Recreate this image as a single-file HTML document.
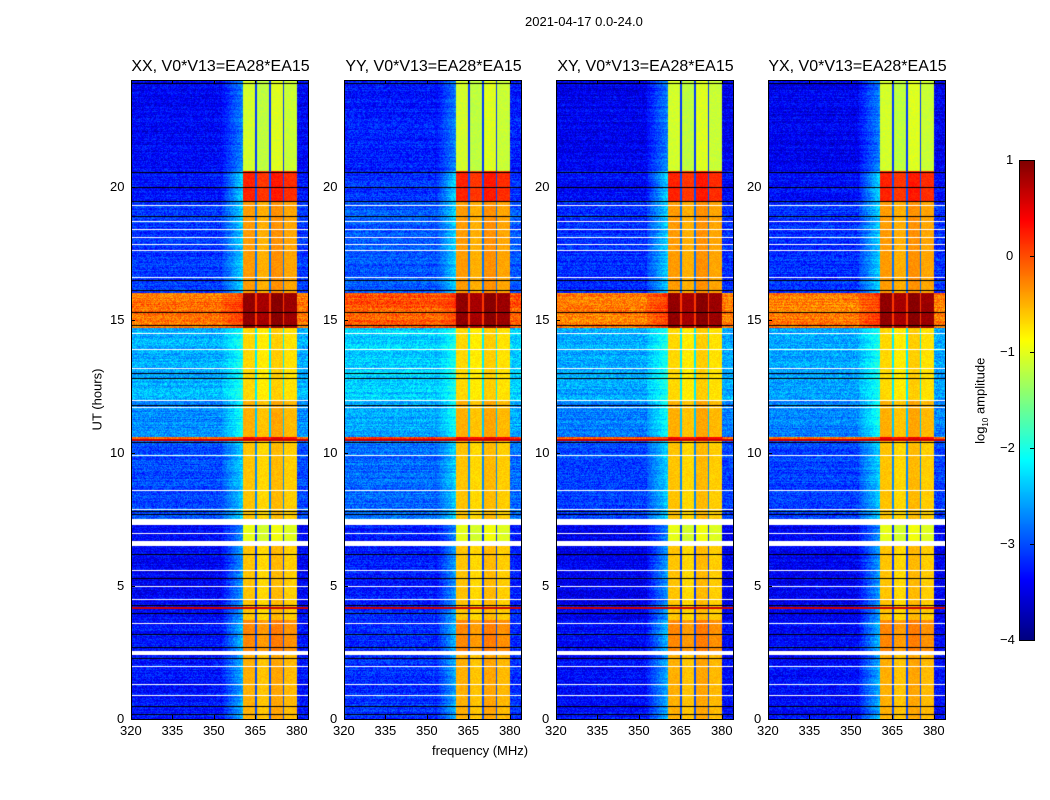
<!DOCTYPE html>
<html><head><meta charset="utf-8">
<style>
body{margin:0;background:#fff;width:1050px;height:800px;overflow:hidden;position:relative;font-family:"Liberation Sans",sans-serif;}
.abs{position:absolute;}
.t{position:absolute;font-size:13px;color:#000;white-space:nowrap;}
.title{position:absolute;font-size:16px;white-space:nowrap;transform:translateX(-50%);}
canvas{position:absolute;}
.frame{position:absolute;border:1px solid #000;box-sizing:border-box;}
</style></head>
<body>
<div class="t" style="left:525px;top:14px;">2021-04-17 0.0-24.0</div>
<div class="t" style="left:66px;top:392px;transform:rotate(-90deg);">UT (hours)</div>
<div class="t" style="left:432px;top:743px;">frequency (MHz)</div>
<div class="t" style="left:938px;top:392px;transform:rotate(-90deg);">log<sub style="font-size:8px">10</sub> amplitude</div>
<div id="root"></div>
<script>
// ---- data ----
const panelTitles=["XX, V0*V13=EA28*EA15","YY, V0*V13=EA28*EA15","XY, V0*V13=EA28*EA15","YX, V0*V13=EA28*EA15"];
const panelOffset=[0,0.15,-0.05,-0.05];
const bandStart=[0,2.4,2.55,3.7,6.5,6.7,7.3,7.5,10.45,10.6,12.0,14.7,16.0,19.4,20.6];
const bandEnd=[2.4,2.55,3.7,6.5,6.7,7.3,7.5,10.45,10.6,12.0,14.7,16.0,19.4,20.6,24];
const bandBg=[-2.9,null,-2.9,-3.0,null,-3.0,null,-2.6,0.3,-2.3,-2.1,0.2,-2.7,-2.9,-3.0];
const bandCh=[-0.5,null,-0.3,-0.6,null,-1.0,null,-0.6,0.4,-0.5,-0.7,0.9,-0.4,0.2,-1.1];
const chanStart=[360.4,365.4,370.5,375.5];
const chanEnd=[364.9,370.0,375.0,380.0];
const chanBoost=[0.1,0,0.15,0.05];
const whiteLines=[0.9,1.3,2.0,3.6,4.5,5.0,5.6,7.0,7.9,8.6,9.9,11.7,12.0,13.2,13.9,14.5,16.6,17.6,17.85,18.1,18.4,18.7,19.3];
const blackLines=[0.2,0.5,2.3,2.7,3.2,4.0,4.3,5.3,6.2,7.7,7.8,10.4,11.8,12.8,13.0,14.8,15.3,16.1,16.5,18.9,19.45,20.0,20.55,23.9];
const redLines=[4.22,10.5];
const xTicks=[320,335,350,365,380];
const yTicks=[0,5,10,15,20];
const cbTicks=[1,0,-1,-2,-3,-4];
// ---- layout ----
const lefts=[131,344,556,768], W=177, TOP=80, H=639;
const fx=f=>(f-320)/64*W, hy=h=>H-h/24*H;
function jet(v){let t=(v+4)/5;t=Math.max(0,Math.min(1,t));
 const r=Math.min(1,Math.max(0,1.5-Math.abs(4*t-3))),g=Math.min(1,Math.max(0,1.5-Math.abs(4*t-2))),b=Math.min(1,Math.max(0,1.5-Math.abs(4*t-1)));return [r*255|0,g*255|0,b*255|0];}
function hash(x,y){let n=x*374761393+y*668265263;n=(n^(n>>13))*1274126177;return ((n^(n>>16))>>>0)/4294967295;}
const root=document.getElementById('root');
lefts.forEach((L,p)=>{
 const c=document.createElement('canvas');c.width=W;c.height=H;c.style.left=L+'px';c.style.top=TOP+'px';
 
 
 root.appendChild(c);
 const ctx=c.getContext('2d'),img=ctx.createImageData(W,H),d=img.data;
 for(let y=0;y<H;y++){
  const h=(H-y-0.5)/H*24;let bi=0;for(let i=0;i<bandStart.length;i++)if(h>=bandStart[i]&&h<bandEnd[i])bi=i;
  const bg=bandBg[bi],ch=bandCh[bi];
  const rowJit=(hash(y*7,p+3)-0.5)*0.5;
  for(let x=0;x<W;x++){
   const k=(y*W+x)*4;
   if(bg===null){d[k]=d[k+1]=d[k+2]=255;d[k+3]=255;continue;}
   const f=320+(x+0.5)/W*64;let v=bg+panelOffset[p]+rowJit+(hash(x+p*999,y)-0.5)*1.1;
   let inCh=-1;for(let j=0;j<chanStart.length;j++)if(f>=chanStart[j]&&f<chanEnd[j])inCh=j;
   if(inCh>=0)v=ch+chanBoost[inCh]+(hash(x,y+p*77)-0.5)*0.35;
   else if(f>353&&f<360.4)v=bg+rowJit+(ch-bg)*0.3*((f-353)/7.4)+(hash(x,y)-0.5)*0.8;
   else if(f>=360.4&&f<380)v=bg-0.1;
   const c2=jet(v);d[k]=c2[0];d[k+1]=c2[1];d[k+2]=c2[2];d[k+3]=255;
  }
 }
 ctx.putImageData(img,0,0);
 ctx.fillStyle='#fff';whiteLines.forEach(h=>ctx.fillRect(0,Math.round(hy(h)),W,1));
 ctx.fillStyle='#000';blackLines.forEach(h=>ctx.fillRect(0,Math.round(hy(h)),W,1));
 ctx.fillStyle='#c00';redLines.forEach(h=>ctx.fillRect(0,Math.round(hy(h)),W,2));
 const fr=document.createElement('div');fr.className='frame';
 
 
 fr.style.cssText=`left:${L}px;top:${TOP}px;width:${W+1}px;height:${H+1}px`;root.appendChild(fr);
 const tt=document.createElement('div');tt.className='title';tt.textContent=panelTitles[p];
 
 
 tt.style.left=(L+W/2+1)+'px';tt.style.top='58px';root.appendChild(tt);
 xTicks.forEach(v=>{const x=L+fx(v);
  const tk=document.createElement('div');tk.className='abs';tk.style.cssText=`left:${x}px;top:${TOP+H-4}px;width:1px;height:4px;background:#000`;
  
  root.appendChild(tk);
  const tk2=tk.cloneNode();tk2.style.top=TOP+'px';root.appendChild(tk2);
  const lb=document.createElement('div');lb.className='t';lb.textContent=v;lb.style.left=(x-11)+'px';lb.style.top=(TOP+H+4)+'px';
  
  root.appendChild(lb);});
 yTicks.forEach(v=>{const y=TOP+hy(v);
  const tk=document.createElement('div');tk.className='abs';tk.style.cssText=`left:${L}px;top:${y}px;width:4px;height:1px;background:#000`;
  
  root.appendChild(tk);
  const lb=document.createElement('div');lb.className='t';lb.textContent=v;lb.style.left=(L-6-(v>=10?15:8))+'px';lb.style.top=(y-8)+'px';
  
  root.appendChild(lb);});
});
// colorbar
const cb=document.createElement('canvas');cb.width=15;cb.height=480;cb.style.left='1019px';cb.style.top='160px';


root.appendChild(cb);
const cx=cb.getContext('2d');for(let y=0;y<480;y++){const c2=jet(1-(y+0.5)/480*5);cx.fillStyle=`rgb(${c2})`;cx.fillRect(0,y,15,1);}
const cf=document.createElement('div');cf.className='frame';cf.style.cssText='left:1019px;top:160px;width:16px;height:481px';

root.appendChild(cf);
cbTicks.forEach(v=>{const y=160+(1-v)/5*480;
 const lb=document.createElement('div');lb.className='t';lb.textContent=(v<0?'\u2212':'')+Math.abs(v);lb.style.left=(v<0?1000:1006)+'px';lb.style.top=(y-8)+'px';
 
 root.appendChild(lb);
 const tk=document.createElement('div');tk.className='abs';tk.style.cssText=`left:1030px;top:${y}px;width:4px;height:1px;background:#000`;
 
 root.appendChild(tk);});
</script>
</body></html>
